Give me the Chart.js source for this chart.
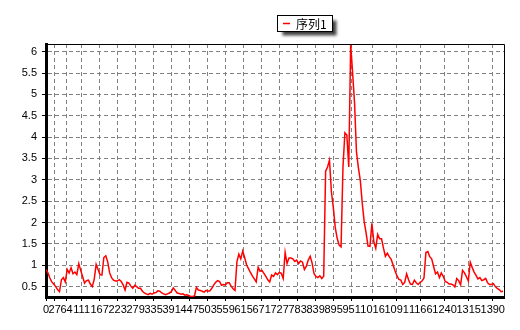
<!DOCTYPE html>
<html>
<head>
<meta charset="utf-8">
<script src="https://cdn.jsdelivr.net/npm/chart.js@4"></script>
<style>
html,body{margin:0;padding:0;background:#fff;}
canvas{display:block;}
</style>
</head>
<body>
<canvas id="c" width="520" height="330"></canvas>
<script>
const seriesName = "序列1";
const indexStep = 6;
const xTickValues = [0,27,64,111,167,223,279,335,391,447,503,559,615,671,727,783,839,895,951,1016,1091,1166,1240,1315,1390];
const yTickValues = [0.5,1,1.5,2,2.5,3,3.5,4,4.5,5,5.5,6];
const values = [
0.90,0.82,0.70,0.61,0.56,0.50,0.43,0.38,0.66,0.71,
0.61,0.90,0.82,0.94,0.80,0.84,0.78,1.04,0.88,0.73,
0.58,0.64,0.65,0.56,0.50,0.67,1.02,0.90,0.78,0.77,
1.18,1.22,1.08,0.82,0.71,0.65,0.63,0.63,0.66,0.62,
0.54,0.42,0.60,0.58,0.51,0.46,0.53,0.50,0.46,0.46,
0.39,0.35,0.33,0.31,0.34,0.32,0.35,0.36,0.40,0.39,
0.35,0.33,0.31,0.33,0.35,0.38,0.47,0.41,0.35,0.34,
0.32,0.33,0.30,0.31,0.29,0.27,0.27,0.28,0.48,0.42,
0.41,0.39,0.37,0.41,0.39,0.40,0.46,0.54,0.60,0.64,
0.62,0.53,0.55,0.54,0.59,0.59,0.51,0.45,0.41,1.08,
1.26,1.15,1.33,1.18,1.01,0.92,0.83,0.75,0.68,0.61,
0.95,0.86,0.88,0.81,0.74,0.66,0.61,0.77,0.74,0.82,
0.78,0.83,0.81,0.69,1.30,1.04,1.17,1.17,1.15,1.09,
1.12,1.04,1.10,1.07,0.90,0.98,1.12,1.21,1.05,0.80,
0.74,0.71,0.75,0.69,0.74,3.20,3.30,3.46,2.72,2.35,
1.88,1.63,1.47,1.43,3.30,4.10,4.05,3.30,6.18,5.50,
4.80,3.65,3.28,2.98,2.45,2.02,1.75,1.45,1.44,1.98,
1.55,1.40,1.72,1.62,1.62,1.40,1.21,1.28,1.20,1.14,
1.00,0.87,0.75,0.67,0.65,0.55,0.60,0.80,0.66,0.56,
0.55,0.65,0.59,0.55,0.60,0.63,0.70,1.30,1.32,1.20,
1.15,0.97,0.80,0.84,0.71,0.82,0.74,0.62,0.60,0.56,
0.56,0.54,0.49,0.69,0.64,0.54,0.88,0.82,0.73,0.63,
1.07,0.95,0.84,0.76,0.68,0.71,0.64,0.66,0.69,0.59,
0.55,0.55,0.57,0.50,0.46,0.43,0.38,0.39
];

const points = values.map((v, i) => ({x: i * indexStep, y: v}));
const FONT = {family: "'Liberation Sans', Arial, sans-serif", size: 11};

const framePlugin = {
  id: 'frame',
  afterDraw(chart) {
    const {ctx, chartArea: a} = chart;
    ctx.save();
    ctx.strokeStyle = '#000';
    ctx.lineWidth = 1;
    ctx.beginPath();
    ctx.moveTo(a.left, a.top + 0.5);
    ctx.lineTo(a.right + 0.5, a.top + 0.5);
    ctx.lineTo(a.right + 0.5, a.bottom);
    ctx.stroke();
    // legend box
    const bx = 277.5, by = 15.5, bw = 55, bh = 16;
    ctx.save();
    ctx.shadowColor = 'rgba(0,0,0,0.75)';
    ctx.shadowBlur = 3;
    ctx.shadowOffsetX = 4;
    ctx.shadowOffsetY = 4;
    ctx.fillStyle = '#fff';
    ctx.fillRect(bx, by, bw, bh);
    ctx.restore();
    ctx.strokeStyle = '#000';
    ctx.strokeRect(bx, by, bw, bh);
    ctx.strokeStyle = '#ff0000';
    ctx.lineWidth = 1.5;
    ctx.beginPath();
    ctx.moveTo(283, 23.5);
    ctx.lineTo(290, 23.5);
    ctx.stroke();
    ctx.fillStyle = '#000';
    ctx.font = "12px 'Noto Sans CJK SC', sans-serif";
    ctx.textBaseline = 'middle';
    ctx.textAlign = 'left';
    ctx.fillText(seriesName, 296, 24);
    ctx.restore();
  }
};

new Chart(document.getElementById('c'), {
  type: 'line',
  data: {
    datasets: [{
      label: seriesName,
      data: points,
      borderColor: '#ff0000',
      borderWidth: 1.5,
      pointRadius: 0,
      tension: 0,
      fill: false
    }]
  },
  options: {
    responsive: false,
    animation: false,
    devicePixelRatio: 1,
    layout: {padding: {left: 0, top: 44, right: 16, bottom: 0}},
    plugins: {legend: {display: false}, tooltip: {enabled: false}},
    scales: {
      x: {
        type: 'linear',
        min: 0,
        max: 1425,
        afterFit(s) { s.height = 33; },
        afterBuildTicks(s) { s.ticks = xTickValues.map(v => ({value: v})); },
        ticks: {
          autoSkip: false, maxRotation: 0, minRotation: 0,
          color: '#000', font: FONT, padding: 2,
          callback: v => String(v)
        },
        grid: {color: '#808080', lineWidth: 1, tickLength: 4, tickColor: '#000', tickWidth: 1, tickBorderDash: []},
        border: {display: true, color: '#000', width: 3, dash: [4, 3]}
      },
      y: {
        type: 'linear',
        min: 0.256,
        max: 6.18,
        afterFit(s) { s.width = 46; },
        afterBuildTicks(s) { s.ticks = yTickValues.map(v => ({value: v})); },
        ticks: {color: '#000', font: FONT, padding: 5, callback: v => String(v)},
        grid: {color: '#808080', lineWidth: 1, tickLength: 4, tickColor: '#000', tickWidth: 1, tickBorderDash: []},
        border: {display: true, color: '#000', width: 3, dash: [4, 3]}
      }
    }
  },
  plugins: [framePlugin]
});
</script>
</body>
</html>
